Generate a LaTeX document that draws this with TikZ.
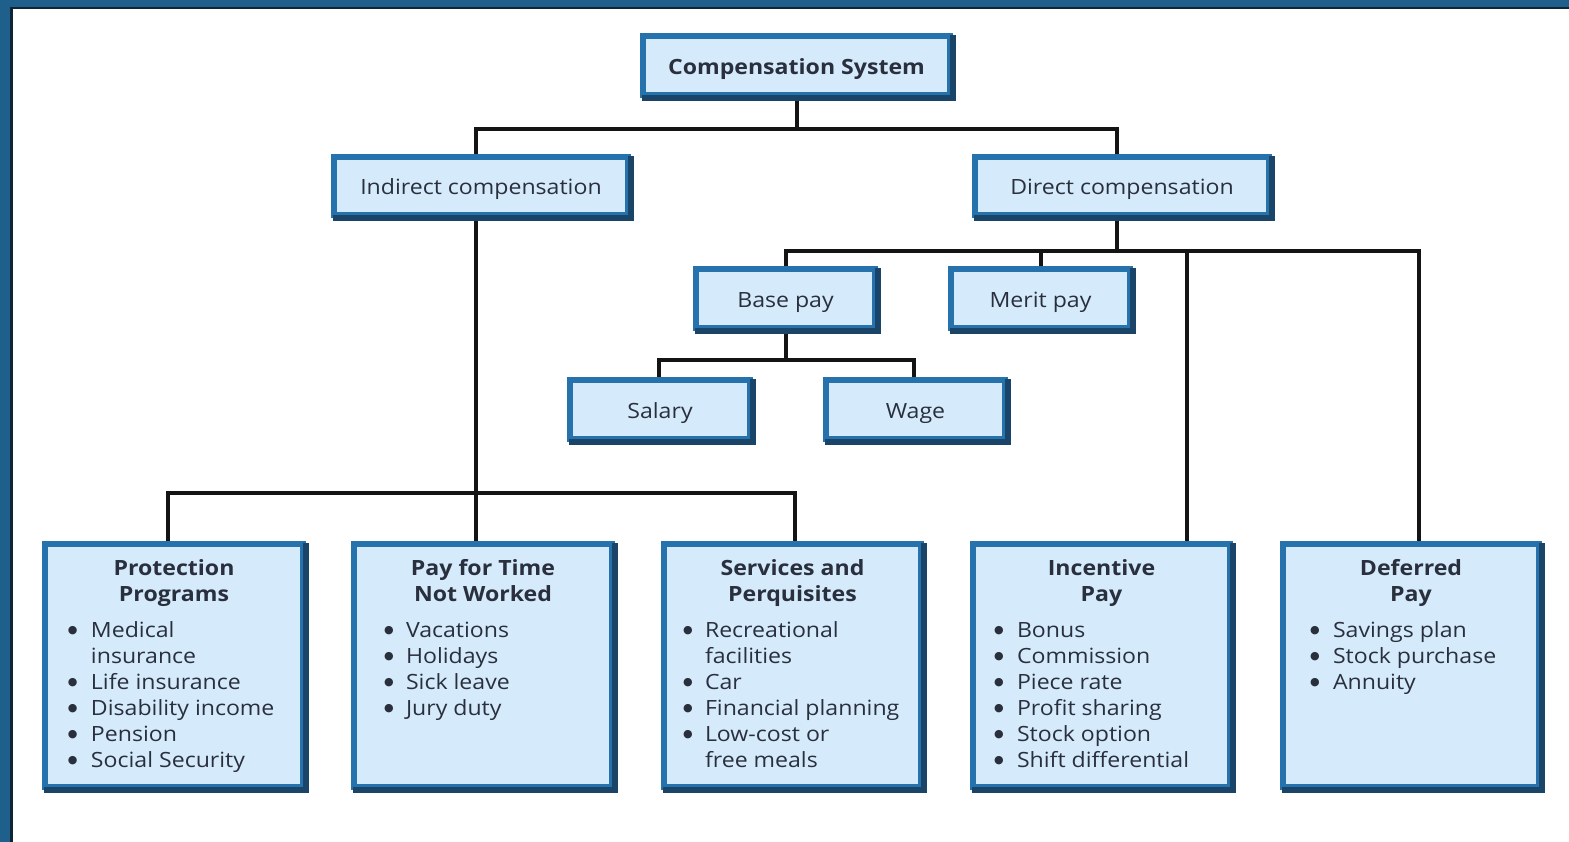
\documentclass[tikz,border=0pt]{standalone}
\usepackage{fontspec}
\setmainfont{Open Sans}[FakeStretch=1.1]
\newfontfamily\symfont{DejaVu Sans}
\usetikzlibrary{backgrounds}
\definecolor{boxblue}{HTML}{2672AC}
\definecolor{boxdark}{HTML}{1A4468}
\definecolor{boxfill}{HTML}{D5EBFB}
\definecolor{txt}{HTML}{2A2F3E}
\definecolor{frameblue}{HTML}{1E5F8C}
\definecolor{framedark}{HTML}{0E2538}
\newlength\bulx
\newlength\txtx
\newcommand\bulletmark{\raisebox{3.5pt}{\symfont\fontsize{11}{11}\selectfont ●}}
\newcommand\bitem[1]{\par\hangindent=\txtx\hangafter=1\noindent\hspace*{\bulx}\makebox[\dimexpr\txtx-\bulx\relax][l]{\bulletmark}#1}
\newcommand\nl{\hfil\break}
\newcommand\bigcontent[5]{\parbox[c][243pt][t]{#1pt}{\setlength\parindent{0pt}\setlength\parskip{0pt}\hyphenpenalty=10000\exhyphenpenalty=10000
 \setlength\bulx{#2pt}\setlength\txtx{#3pt}%
 {\centering\bfseries\rule{0pt}{31pt}#4\par}\vspace{10pt}\raggedright#5\par}}
\tikzset{
 box/.style={draw=boxblue, line width=6pt, fill=boxfill, inner sep=0pt, text=txt,
   font=\fontsize{21}{26}\selectfont, align=center},
 smallbox/.style={box, minimum width=#1, minimum height=59pt, text height=18pt, text depth=0pt},
 conn/.style={draw=black!92, line width=4pt},
 shade/.style={draw=boxdark, line width=6pt, line join=miter},
}
\begin{document}
\begin{tikzpicture}[x=1pt,y=-1pt]
\useasboundingbox (0,0) rectangle (1569,842);
\begin{scope}[on background layer]
\fill[white] (0,0) rectangle (1569,842);
% frame
\fill[frameblue] (0,0) rectangle (12,842);
\fill[frameblue] (0,0) rectangle (1569,8);
\fill[framedark] (10,7) rectangle (13,842);
\fill[framedark] (10,7) rectangle (1569,9.5);
\end{scope}
% top boxes
\node[smallbox=307pt] (comp) at (796.5,65.5) {\bfseries Compensation System};
\node[smallbox=294pt, minimum height=58pt] (ind) at (481,186) {Indirect compensation};
\node[smallbox=294pt, minimum height=58pt] (dir) at (1122,186) {Direct compensation};
\node[smallbox=179pt] (base) at (785.5,298.5) {Base pay};
\node[smallbox=179pt] (merit) at (1040.5,298.5) {Merit pay};
\node[smallbox=180pt] (salary) at (660,409.5) {Salary};
\node[smallbox=179pt] (wage) at (915.5,409.5) {Wage};
% bottom boxes
\node[box] (prot) at (174,665.5) {\bigcontent{258}{23}{46}{Protection\\Programs}{%
 \bitem{Medical\nl insurance}\bitem{Life insurance}\bitem{Disability income}\bitem{Pension}\bitem{Social Security}}};
\node[box] (ptnw) at (483,665.5) {\bigcontent{258}{30}{52}{Pay for Time\\Not Worked}{%
 \bitem{Vacations}\bitem{Holidays}\bitem{Sick leave}\bitem{Jury duty}}};
\node[box] (serv) at (792.5,665.5) {\bigcontent{257}{19}{41}{Services and\\Perquisites}{%
 \bitem{Recreational\nl facilities}\bitem{Car}\bitem{Financial planning}\bitem{Low-cost or\nl free meals}}};
\node[box] (inc) at (1101.5,665.5) {\bigcontent{257}{21}{44}{Incentive\\Pay}{%
 \bitem{Bonus}\bitem{Commission}\bitem{Piece rate}\bitem{Profit sharing}\bitem{Stock option}\bitem{Shift differential}}};
\node[box] (def) at (1411,665.5) {\bigcontent{256}{27}{50}{Deferred\\Pay}{%
 \bitem{Savings plan}\bitem{Stock purchase}\bitem{Annuity}}};
% dark right/bottom edges
\foreach \n in {comp,ind,dir,base,merit,salary,wage,prot,ptnw,serv,inc,def}
  \draw[shade] ([yshift=-2pt]\n.north east) -- (\n.south east) -- ([xshift=2pt]\n.south west);
% connectors
\begin{scope}[on background layer]
\draw[conn] (comp.south) -- ++(0,31) -| ([xshift=-5pt]ind.north);
\draw[conn] (comp.south) -- ++(0,31) -| ([xshift=-5pt]dir.north);
\draw[conn] ([xshift=-5pt]ind.south) -- ++(0,275) -| ([xshift=-6pt]prot.north);
\draw[conn] ([xshift=-5pt]ind.south) -- ++(0,275) -| ([xshift=-7pt]ptnw.north);
\draw[conn] ([xshift=-5pt]ind.south) -- ++(0,275) -| ([xshift=2.5pt]serv.north);
\draw[conn] ([xshift=-5pt]dir.south) -- ++(0,33) -| (base.north);
\draw[conn] ([xshift=-5pt]dir.south) -- ++(0,33) -| (merit.north);
\draw[conn] ([xshift=-5pt]dir.south) -- ++(0,33) -| ([xshift=85.5pt]inc.north);
\draw[conn] ([xshift=-5pt]dir.south) -- ++(0,33) -| ([xshift=8pt]def.north);
\draw[conn] (base.south) -- ++(0,29) -| ([xshift=-1pt]salary.north);
\draw[conn] (base.south) -- ++(0,29) -| ([xshift=-1.5pt]wage.north);
\end{scope}
\end{tikzpicture}
\end{document}
